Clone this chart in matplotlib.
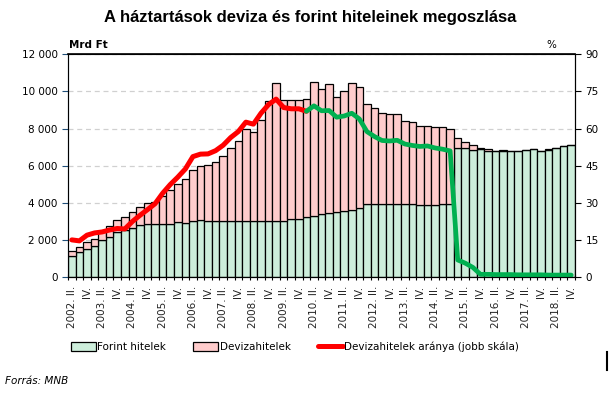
import numpy as np
import matplotlib.pyplot as plt
from matplotlib.lines import Line2D

# Quarterly data, 2002 Q2 - 2018 Q4 (Mrd Ft)
forint = [1165, 1380, 1540, 1700, 1990, 2190, 2460, 2540, 2670, 2800,
          2850, 2850, 2890, 2890, 2990, 2940, 3010, 3060, 3040, 3040,
          3040, 3010, 3010, 3010, 3010, 3010, 3010, 3010, 3040, 3120,
          3130, 3220, 3290, 3420, 3460, 3530, 3580, 3630, 3710, 3920,
          3920, 3970, 3920, 3920, 3920, 3920, 3870, 3870, 3870, 3920,
          3920, 6930, 6930, 6840, 6890, 6820, 6790, 6790, 6790, 6790,
          6850, 6900, 6790, 6870, 6970, 7080, 7130]
deviza = [235, 270, 340, 340, 480, 550, 600, 690, 820, 960,
          1130, 1220, 1460, 1790, 2010, 2330, 2740, 2910, 2980, 3140,
          3460, 3970, 4350, 4980, 4830, 5480, 6500, 7460, 6500, 6420,
          6430, 6400, 7240, 6730, 6960, 6190, 6460, 6840, 6530, 5430,
          5210, 4890, 4840, 4840, 4510, 4460, 4280, 4280, 4220, 4140,
          4070, 540, 360, 290, 90, 60, 10, 70, 10, 10,
          10, 10, 10, 10, 10, 10, 10]
# share of FX loans (%) - right axis
arany = [15.1, 14.7, 17.0, 17.9, 18.3, 19.1, 19.7, 19.5, 22.5, 25.0,
         27.3, 29.7, 33.9, 37.4, 40.4, 43.7, 48.7, 49.7, 49.8, 51.1,
         53.3, 56.4, 58.8, 62.6, 61.8, 66.2, 69.7, 71.9, 68.5, 68.0,
         68.0, 67.0, 69.2, 67.2, 67.3, 64.6, 65.1, 66.2, 63.9, 58.8,
         56.8, 55.2, 55.0, 55.3, 53.8, 53.2, 52.8, 53.0, 52.2, 51.7,
         51.0, 7.0, 5.7, 4.0, 1.2, 1.2, 1.1, 1.1, 1.1, 1.0,
         1.0, 1.0, 1.0, 0.9, 0.9, 0.9, 0.9]
split = 31  # red part ends / green part starts (2010 Q1)

n = len(forint)
labels = []
for i in range(n):
    year = 2002 + (i + 1) // 4
    q = (i + 1) % 4 + 1
    if q == 2:
        labels.append(f"{year}. II.")
    elif q == 4:
        labels.append("IV.")
x = np.arange(n)

plt.rcParams['font.family'] = 'DejaVu Sans'
fig = plt.figure(figsize=(6.13, 3.99), dpi=100)
ax = fig.add_axes([0.111, 0.305, 0.827, 0.559])

green_fill = '#CDEEDB'
pink_fill = '#FFCCCC'
ax.bar(x, forint, width=1.0, color=green_fill, edgecolor='black', linewidth=0.9,
       label='Forint hitelek', zorder=2)
ax.bar(x, deviza, width=1.0, bottom=forint, color=pink_fill, edgecolor='black',
       linewidth=0.9, label='Devizahitelek', zorder=2)

ax.set_xlim(-0.5, n - 0.5)
ax.set_ylim(0, 12000)
ax.set_yticks(np.arange(0, 12001, 2000))
ax.set_yticklabels([f"{v:,}".replace(",", " ") for v in range(0, 12001, 2000)], fontsize=7.5)
ax.grid(axis='y', color='#D0D0D0', linestyle=(0, (4, 3)), linewidth=0.9, zorder=0)
ax.set_axisbelow(True)

ax.set_xticks(x[::2])
ax.set_xticklabels(labels, rotation=90, fontsize=7.5, color='#222222')
ax.tick_params(axis='x', length=0, pad=6)
ax.set_xticks(np.arange(-0.5, n, 1), minor=True)
ax.tick_params(axis='x', which='minor', length=4, direction='inout', width=0.8)

ax.spines['left'].set_color('#1F4E79')
ax.tick_params(axis='y', colors='black', length=4, width=0.8)
ax.tick_params(axis='y', color='#1F4E79')
ax.spines['top'].set_linewidth(1.2)

ax2 = ax.twinx()
ax2.set_ylim(0, 90)
ax2.set_yticks(np.arange(0, 91, 15))
ax2.tick_params(axis='y', labelsize=7.5, length=4, width=0.8)
ax2.plot(x[:split + 1], arany[:split + 1], color='#FF0000', linewidth=3.6,
         solid_capstyle='round', label='Devizahitelek aránya (jobb skála)')
ax2.plot(x[split:], arany[split:], color='#00B050', linewidth=3.4,
         solid_capstyle='round')
ax2.set_xlim(-0.5, n - 0.5)

fig.text(0.506, 0.955, 'A háztartások deviza és forint hiteleinek megoszlása',
         ha='center', va='center', fontsize=12, fontweight='bold',
         family='Liberation Sans')
fig.text(0.113, 0.875, 'Mrd Ft', fontsize=7.5, fontweight='bold', va='bottom')
fig.text(0.9, 0.875, '%', fontsize=7.5, va='bottom', ha='center')
fig.text(0.008, 0.045, 'Forrás: MNB', fontsize=7.5, style='italic', va='center')

handles = [ax.containers[0], ax.containers[1], ax2.get_lines()[0]]
names = ['Forint hitelek', 'Devizahitelek', 'Devizahitelek aránya (jobb skála)']
fig.legend(handles, names, loc='center', bbox_to_anchor=(0.481, 0.13), ncol=3,
           frameon=False, fontsize=7.5, handlelength=2.4, handletextpad=0.15,
           columnspacing=2.6, handleheight=0.9)

fig.add_artist(Line2D([0.991, 0.991], [0.073, 0.118], color='black', linewidth=1.5))

fig.savefig('out.png', dpi=100)
